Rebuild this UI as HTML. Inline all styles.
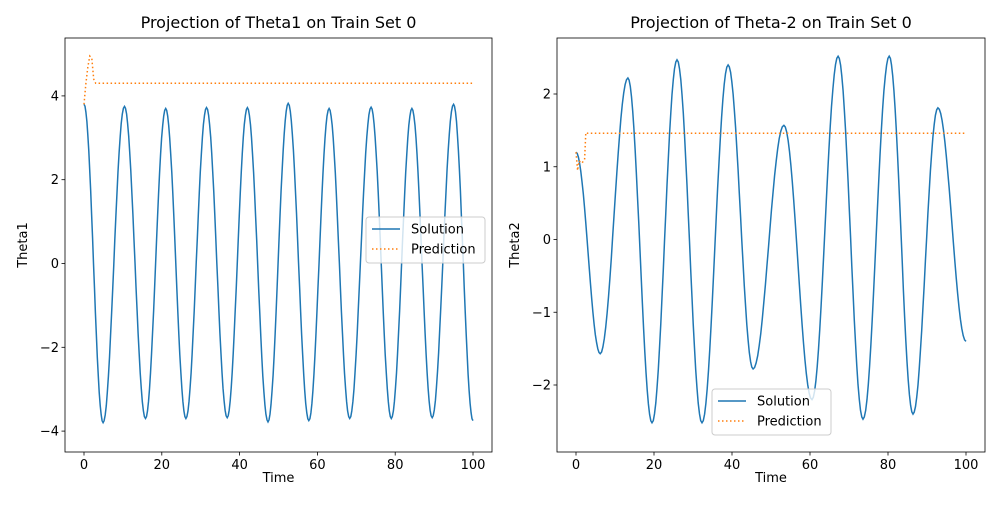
<!DOCTYPE html>
<html><head><meta charset="utf-8"><style>
body{margin:0;background:#fff;font-family:"Liberation Sans","DejaVu Sans",sans-serif}
svg text{font-family:"DejaVu Sans","Liberation Sans",sans-serif}
</style></head><body>
<svg id="c" width="1000" height="500" xmlns="http://www.w3.org/2000/svg"></svg>
<script>
// Left panel data (extrema of solution)
const leftSolT=[0,4.9,10.4,15.8,21,26.2,31.5,36.8,42,47.3,52.5,57.8,63,68.3,73.8,79,84.3,89.5,95,100];
const leftSolV=[3.8,-3.8,3.75,-3.7,3.7,-3.7,3.72,-3.68,3.72,-3.78,3.82,-3.75,3.7,-3.7,3.73,-3.7,3.7,-3.68,3.8,-3.75];
const leftPredT=[0,0.5,1,1.5,2,2.5,3,100];
const leftPredV=[3.8,4.3,4.7,4.95,4.9,4.4,4.3,4.3];
// Right panel data
const rightSolT=[0,6.2,13.3,19.5,25.9,32.3,39,45.4,53.3,60.5,67.2,73.6,80.3,86.4,92.8,100];
const rightSolV=[1.2,-1.57,2.22,-2.52,2.47,-2.52,2.4,-1.78,1.57,-2.2,2.52,-2.47,2.52,-2.4,1.81,-1.4];
const rightPredT=[0,0.4,0.8,1.5,2.2,2.5,3,100];
const rightPredV=[1.2,0.95,1.08,1.05,1.1,1.47,1.46,1.46];
const xTicks=[0,20,40,60,80,100];
const leftYTicks=[-4,-2,0,2,4];
const rightYTicks=[-2,-1,0,1,2];

const NS="http://www.w3.org/2000/svg";
const svg=document.getElementById('c');
function el(t,a,p){const e=document.createElementNS(NS,t);for(const k in a)e.setAttribute(k,a[k]);(p||svg).appendChild(e);return e;}

function panel(o){
  const g=el('g',{});
  
  
  const sx=v=>o.x0+(v-0)*(o.x100-o.x0)/100;
  const sy=v=>o.yZero-v*o.yScale;
  // solution curve via cosine between extrema
  let d='';
  for(let i=0;i<o.st.length-1;i++){
    const t0=o.st[i],t1=o.st[i+1],v0=o.sv[i],v1=o.sv[i+1];
    for(let k=0;k<=20;k++){const f=k/20;const t=t0+(t1-t0)*f;const v=v0+(v1-v0)*(1-Math.cos(Math.PI*f))/2;
      d+=(d?'L':'M')+sx(t).toFixed(1)+','+sy(v).toFixed(1);}
  }
  const clipId=o.name+'-clip';
  const cp=el('clipPath',{id:clipId},g);el('rect',{x:o.L,y:o.T,width:o.R-o.L,height:o.B-o.T},cp);
  const s=el('path',{d:d,fill:'none',stroke:'#1f77b4','stroke-width':1.5,'clip-path':'url(#'+clipId+')'},g);
  
  let pd='';o.pt.forEach((t,i)=>{pd+=(i?'L':'M')+sx(t).toFixed(1)+','+sy(o.pv[i]).toFixed(1);});
  const p=el('path',{d:pd,fill:'none',stroke:'#ff7f0e','stroke-width':1.5,'stroke-dasharray':'1.5,2.5'},g);
  
  const fr=el('rect',{x:o.L,y:o.T,width:o.R-o.L,height:o.B-o.T,fill:'none',stroke:'#000','stroke-width':0.8},g);
  
  xTicks.forEach(t=>{const x=sx(t);el('line',{x1:x,x2:x,y1:o.B,y2:o.B+3.5,stroke:'#000','stroke-width':0.8},g);
    const tx=el('text',{x:x,y:o.B+17,'font-size':13,'text-anchor':'middle'},g);tx.textContent=t;
    });
  o.yt.forEach(t=>{const y=sy(t);el('line',{x1:o.L-3.5,x2:o.L,y1:y,y2:y,stroke:'#000','stroke-width':0.8},g);
    const tx=el('text',{x:o.L-6,y:y+4.5,'font-size':13,'text-anchor':'end'},g);tx.textContent=(t<0?'\u2212'+(-t):t);
    });
  const ti=el('text',{x:(o.L+o.R)/2,y:28,'font-size':16,'text-anchor':'middle'},g);ti.textContent=o.title;
  
  const xl=el('text',{x:(o.L+o.R)/2,y:482,'font-size':13,'text-anchor':'middle'},g);xl.textContent='Time';
  
  const yl=el('text',{x:o.L-38,y:(o.T+o.B)/2,'font-size':13,'text-anchor':'middle',transform:'rotate(-90 '+(o.L-38)+' '+((o.T+o.B)/2)+')'},g);yl.textContent=o.ylab;
  
  const lg=el('g',{},g);
  el('rect',{x:o.lx,y:o.ly,width:119,height:46,rx:3,fill:'#fff','fill-opacity':0.8,stroke:'#ccc'},lg);
  el('line',{x1:o.lx+6,x2:o.lx+34,y1:o.ly+12,y2:o.ly+12,stroke:'#1f77b4','stroke-width':1.5},lg);
  el('line',{x1:o.lx+6,x2:o.lx+34,y1:o.ly+32,y2:o.ly+32,stroke:'#ff7f0e','stroke-width':1.5,'stroke-dasharray':'1.5,2.5'},lg);
  const a=el('text',{x:o.lx+45,y:o.ly+16.5,'font-size':13},lg);a.textContent='Solution';
  
  const b=el('text',{x:o.lx+45,y:o.ly+36.5,'font-size':13},lg);b.textContent='Prediction';
  
}
panel({name:'left-panel',L:65,R:492,T:38,B:452,x0:84,x100:473,yZero:263.5,yScale:41.9,st:leftSolT,sv:leftSolV,pt:leftPredT,pv:leftPredV,yt:leftYTicks,title:'Projection of Theta1 on Train Set 0',ylab:'Theta1',lx:366,ly:217});
panel({name:'right-panel',L:557,R:985,T:38,B:452,x0:576,x100:966,yZero:239.5,yScale:72.75,st:rightSolT,sv:rightSolV,pt:rightPredT,pv:rightPredV,yt:rightYTicks,title:'Projection of Theta-2 on Train Set 0',ylab:'Theta2',lx:712,ly:389});
</script>
</body></html>
